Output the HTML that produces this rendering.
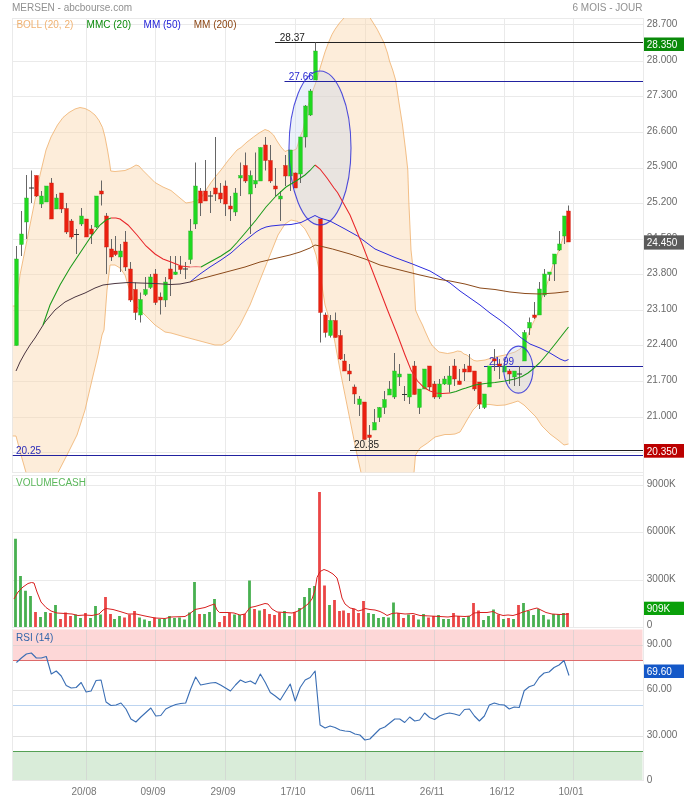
<!DOCTYPE html>
<html><head><meta charset="utf-8"><title>MERSEN</title>
<style>html,body{margin:0;padding:0;background:#fff;}body{width:684px;height:800px;position:relative;overflow:hidden;font-family:"Liberation Sans",sans-serif;}</style></head>
<body>
<svg width="684" height="800" viewBox="0 0 684 800" style="position:absolute;left:0;top:0;will-change:transform" font-family="Liberation Sans, sans-serif" font-size="10px">
<rect width="684" height="800" fill="#fff"/>
<defs><clipPath id="cm"><rect x="12.5" y="18" width="630.5" height="454.5"/></clipPath><clipPath id="cv"><rect x="12.5" y="475" width="630.5" height="152.5"/></clipPath></defs>
<g stroke="#eaeaea" stroke-width="1" shape-rendering="crispEdges">
<line x1="12" y1="24.5" x2="643" y2="24.5"/>
<line x1="12" y1="61.5" x2="643" y2="61.5"/>
<line x1="12" y1="96.5" x2="643" y2="96.5"/>
<line x1="12" y1="132.5" x2="643" y2="132.5"/>
<line x1="12" y1="168.5" x2="643" y2="168.5"/>
<line x1="12" y1="203.5" x2="643" y2="203.5"/>
<line x1="12" y1="239.5" x2="643" y2="239.5"/>
<line x1="12" y1="274.5" x2="643" y2="274.5"/>
<line x1="12" y1="310.5" x2="643" y2="310.5"/>
<line x1="12" y1="345.5" x2="643" y2="345.5"/>
<line x1="12" y1="381.5" x2="643" y2="381.5"/>
<line x1="12" y1="417.5" x2="643" y2="417.5"/>
<line x1="12" y1="452.5" x2="643" y2="452.5"/>
<line x1="86.5" y1="18" x2="86.5" y2="472"/>
<line x1="155.5" y1="18" x2="155.5" y2="472"/>
<line x1="225.5" y1="18" x2="225.5" y2="472"/>
<line x1="295.5" y1="18" x2="295.5" y2="472"/>
<line x1="365.5" y1="18" x2="365.5" y2="472"/>
<line x1="434.5" y1="18" x2="434.5" y2="472"/>
<line x1="504.5" y1="18" x2="504.5" y2="472"/>
<line x1="573.5" y1="18" x2="573.5" y2="472"/>
<path d="M643.5 18.5H12.5V472.5H643.5" fill="none"/>
<line x1="12" y1="485.5" x2="643" y2="485.5"/>
<line x1="12" y1="532.5" x2="643" y2="532.5"/>
<line x1="12" y1="580.5" x2="643" y2="580.5"/>
<line x1="86.5" y1="475" x2="86.5" y2="627"/>
<line x1="155.5" y1="475" x2="155.5" y2="627"/>
<line x1="225.5" y1="475" x2="225.5" y2="627"/>
<line x1="295.5" y1="475" x2="295.5" y2="627"/>
<line x1="365.5" y1="475" x2="365.5" y2="627"/>
<line x1="434.5" y1="475" x2="434.5" y2="627"/>
<line x1="504.5" y1="475" x2="504.5" y2="627"/>
<line x1="573.5" y1="475" x2="573.5" y2="627"/>
<path d="M643.5 475.5H12.5V627.5H643.5" fill="none"/>
</g>
<rect x="12.5" y="629.5" width="630" height="31" fill="#fdd7d7"/>
<rect x="12.5" y="751.5" width="630" height="29" fill="#d9ecd9"/>
<g stroke="#cfcfcf" stroke-opacity="0.6" stroke-width="1" shape-rendering="crispEdges">
<line x1="12" y1="645.5" x2="643" y2="645.5"/>
<line x1="12" y1="690.5" x2="643" y2="690.5"/>
<line x1="12" y1="736.5" x2="643" y2="736.5"/>
<line x1="86.5" y1="629.5" x2="86.5" y2="780.5"/>
<line x1="155.5" y1="629.5" x2="155.5" y2="780.5"/>
<line x1="225.5" y1="629.5" x2="225.5" y2="780.5"/>
<line x1="295.5" y1="629.5" x2="295.5" y2="780.5"/>
<line x1="365.5" y1="629.5" x2="365.5" y2="780.5"/>
<line x1="434.5" y1="629.5" x2="434.5" y2="780.5"/>
<line x1="504.5" y1="629.5" x2="504.5" y2="780.5"/>
<line x1="573.5" y1="629.5" x2="573.5" y2="780.5"/>
</g>
<g stroke="#eaeaea" shape-rendering="crispEdges"><line x1="12.5" y1="629" x2="12.5" y2="781"/><line x1="643.5" y1="18" x2="643.5" y2="781"/><line x1="12" y1="780.5" x2="643" y2="780.5"/></g>
<line x1="12.5" y1="705.5" x2="643" y2="705.5" stroke="#bcd4f0" shape-rendering="crispEdges"/>
<line x1="12.5" y1="660.5" x2="643" y2="660.5" stroke="#dd6a6a" shape-rendering="crispEdges"/>
<line x1="12.5" y1="751.5" x2="643" y2="751.5" stroke="#55a055" shape-rendering="crispEdges"/>
<g clip-path="url(#cm)">
<polygon points="12.5,306 16,306 18,292 20,275 25,250 30,225 35,200 40,175 46,150 51,137 57.5,125 63,117.5 69,112.5 75,109 80,107.5 85,108.5 90,111 95,115 99,120.5 102.5,127.5 105,137 107.5,150 109.5,162 110.75,171 115,171.5 120,171 125,170.5 131,168 136,165 139,166 142.5,170 148,175.5 155,182.5 163,187 171,190.5 180,198 186,203 192,202 198,200 201,198 206,190 211,182.5 216,176 221,170 228.5,160 237,150 241,147.5 247,142 253.5,137 259,133 265,129.5 269,131 273.5,135 277,141 281,147 285,151.5 288.5,150 293,150.5 296.5,149 298.5,142 300,137 303,130 305,120 308,106 310,100 313,90 316,82 321,65 325,52 328.5,42.5 332,34.5 335,29.3 339.5,23 344,18 344,10 370.2,10 370.2,18 377.2,29.3 383.9,42.5 387.5,53 389.5,61 392.7,70 395.6,80 399.2,104 402.5,125 405.6,150 407.8,170 408.75,200 411,250 413.75,275 415.5,310 419,318 422.5,325 425,331 430,342 432.5,346 439,352 447.5,353.5 453,352.5 457.5,351 461,351.5 464,354 467,355 471,358.5 474,360.5 477,361 485,360 495,357 505,355 515,352 520,349 524,345 528,335 532,325 537,315 541,300 545,290 549,278 553,265 557,255 560,247 563,238 566,225 568.5,213 568.5,444 564,445 558,440 550,434 542,426 536,417 530,411 524,405 518,401 512,403 505,405 497,405.5 490,404.5 479,404 473,410 467,420 463,427 460,432 455,434 450,434.5 445,434.5 435,437 427.5,443 420,448 415.5,455 414,472.5 414,480 361,480 361,472.5 356,450 350,420 341,375 334,337.5 329,318 325,305 321,280 316,255 311,240 305,229 298,221.5 291,220 285,224 278,235 270,255 260,280 250,305 240,325 230,340 222,345 215,345 200,341 185,337 171,333 165,332 155,325 145,315 135,305 128,285 125,275 120,268 115,265 110,265 107,290 104,330 102,335 98,355 92,380 85,410 77,435 67,455 58,472.5 58,480 26,480 26,472.5 21,455 16,436 12.5,436" fill="#fbd5a8" fill-opacity="0.42" stroke="none"/>
<g fill="none" stroke="#f0b472" stroke-width="0.85">
<polyline points="12.5,306 16,306 18,292 20,275 25,250 30,225 35,200 40,175 46,150 51,137 57.5,125 63,117.5 69,112.5 75,109 80,107.5 85,108.5 90,111 95,115 99,120.5 102.5,127.5 105,137 107.5,150 109.5,162 110.75,171 115,171.5 120,171 125,170.5 131,168 136,165 139,166 142.5,170 148,175.5 155,182.5 163,187 171,190.5 180,198 186,203 192,202 198,200 201,198 206,190 211,182.5 216,176 221,170 228.5,160 237,150 241,147.5 247,142 253.5,137 259,133 265,129.5 269,131 273.5,135 277,141 281,147 285,151.5 288.5,150 293,150.5 296.5,149 298.5,142 300,137 303,130 305,120 308,106 310,100 313,90 316,82 321,65 325,52 328.5,42.5 332,34.5 335,29.3 339.5,23 344,18"/>
<polyline points="370.2,18 377.2,29.3 383.9,42.5 387.5,53 389.5,61 392.7,70 395.6,80 399.2,104 402.5,125 405.6,150 407.8,170 408.75,200 411,250 413.75,275 415.5,310 419,318 422.5,325 425,331 430,342 432.5,346 439,352 447.5,353.5 453,352.5 457.5,351 461,351.5 464,354 467,355 471,358.5 474,360.5 477,361 485,360 495,357 505,355 515,352 520,349 524,345 528,335 532,325 537,315 541,300 545,290 549,278 553,265 557,255 560,247 563,238 566,225 568.5,213"/>
<polyline points="414,472.5 415.5,455 420,448 427.5,443 435,437 445,434.5 450,434.5 455,434 460,432 463,427 467,420 473,410 479,404 490,404.5 497,405.5 505,405 512,403 518,401 524,405 530,411 536,417 542,426 550,434 558,440 564,445 568.5,444"/>
<polyline points="58,472.5 67,455 77,435 85,410 92,380 98,355 102,335 104,330 107,290 110,265 115,265 120,268 125,275 128,285 135,305 145,315 155,325 165,332 171,333 185,337 200,341 215,345 222,345 230,340 240,325 250,305 260,280 270,255 278,235 285,224 291,220 298,221.5 305,229 311,240 316,255 321,280 325,305 329,318 334,337.5 341,375 350,420 356,450 361,472.5"/>
<polyline points="12.5,436 16,436 21,455 26,472.5"/>
</g>
<ellipse cx="320" cy="148" rx="31" ry="77" fill="#bcd0f0" fill-opacity="0.3" stroke="none"/>
<ellipse cx="518.4" cy="369.6" rx="14.6" ry="23.5" fill="#bcd0f0" fill-opacity="0.3" stroke="none"/>
<line x1="275" y1="42.5" x2="643" y2="42.5" stroke="#222" stroke-width="1"/>
<line x1="284.5" y1="81.5" x2="643" y2="81.5" stroke="#2222a0" stroke-width="1"/>
<line x1="484" y1="366.5" x2="643" y2="366.5" stroke="#2222a0" stroke-width="1"/>
<line x1="350" y1="450.5" x2="643" y2="450.5" stroke="#222" stroke-width="1"/>
<line x1="12.5" y1="455.5" x2="643" y2="455.5" stroke="#2222a0" stroke-width="1"/>
<text x="279.8" y="40.5" fill="#222">28.37</text>
<text x="288.8" y="79.5" fill="#2a2ad0">27.66</text>
<text x="489" y="364.6" fill="#2a2ad0">21.99</text>
<text x="354" y="448" fill="#222">20.35</text>
<text x="16" y="453.7" fill="#2a2ab8">20.25</text>
<line x1="16.5" y1="246.0" x2="16.5" y2="345.5" stroke="#666" stroke-width="1"/>
<rect x="14.65" y="259.0" width="3.7" height="86.5" fill="#20d820" stroke="#2fae2f" stroke-width="0.4"/>
<line x1="21.5" y1="211.0" x2="21.5" y2="256.0" stroke="#666" stroke-width="1"/>
<rect x="19.65" y="234.0" width="3.7" height="10.5" fill="#20d820" stroke="#2fae2f" stroke-width="0.4"/>
<line x1="26.5" y1="175.0" x2="26.5" y2="239.0" stroke="#666" stroke-width="1"/>
<rect x="24.65" y="198.0" width="3.7" height="24" fill="#20d820" stroke="#2fae2f" stroke-width="0.4"/>
<line x1="31.5" y1="170.5" x2="31.5" y2="203.0" stroke="#666" stroke-width="1"/>
<line x1="29.0" y1="188.0" x2="34.0" y2="188.0" stroke="#333" stroke-width="1"/>
<line x1="36.5" y1="175.5" x2="36.5" y2="197.0" stroke="#666" stroke-width="1"/>
<rect x="34.65" y="175.5" width="3.7" height="20.5" fill="#ea2010" stroke="#c81e10" stroke-width="0.4"/>
<line x1="41.5" y1="191.0" x2="41.5" y2="208.0" stroke="#666" stroke-width="1"/>
<rect x="39.65" y="196.0" width="3.7" height="8" fill="#20d820" stroke="#2fae2f" stroke-width="0.4"/>
<line x1="46.5" y1="186.0" x2="46.5" y2="202.0" stroke="#666" stroke-width="1"/>
<rect x="44.65" y="186.0" width="3.7" height="16" fill="#20d820" stroke="#2fae2f" stroke-width="0.4"/>
<line x1="51.5" y1="178.0" x2="51.5" y2="219.0" stroke="#666" stroke-width="1"/>
<rect x="49.65" y="183.0" width="3.7" height="36" fill="#ea2010" stroke="#c81e10" stroke-width="0.4"/>
<line x1="56.5" y1="194.0" x2="56.5" y2="209.0" stroke="#666" stroke-width="1"/>
<rect x="54.65" y="198.0" width="3.7" height="11" fill="#20d820" stroke="#2fae2f" stroke-width="0.4"/>
<line x1="61.5" y1="193.0" x2="61.5" y2="213.0" stroke="#666" stroke-width="1"/>
<rect x="59.65" y="193.0" width="3.7" height="16" fill="#ea2010" stroke="#c81e10" stroke-width="0.4"/>
<line x1="66.5" y1="203.0" x2="66.5" y2="234.0" stroke="#666" stroke-width="1"/>
<rect x="64.65" y="208.5" width="3.7" height="23.5" fill="#ea2010" stroke="#c81e10" stroke-width="0.4"/>
<line x1="71.5" y1="219.0" x2="71.5" y2="239.0" stroke="#666" stroke-width="1"/>
<rect x="69.65" y="221.0" width="3.7" height="16" fill="#ea2010" stroke="#c81e10" stroke-width="0.4"/>
<line x1="76.5" y1="229.0" x2="76.5" y2="254.0" stroke="#666" stroke-width="1"/>
<line x1="74.0" y1="234.5" x2="79.0" y2="234.5" stroke="#333" stroke-width="1"/>
<line x1="81.5" y1="208.0" x2="81.5" y2="226.0" stroke="#666" stroke-width="1"/>
<rect x="79.65" y="216.0" width="3.7" height="8" fill="#20d820" stroke="#2fae2f" stroke-width="0.4"/>
<line x1="86.5" y1="219.0" x2="86.5" y2="237.0" stroke="#666" stroke-width="1"/>
<rect x="84.65" y="219.0" width="3.7" height="18" fill="#ea2010" stroke="#c81e10" stroke-width="0.4"/>
<line x1="91.5" y1="225.0" x2="91.5" y2="244.0" stroke="#666" stroke-width="1"/>
<rect x="89.65" y="229.0" width="3.7" height="5" fill="#ea2010" stroke="#c81e10" stroke-width="0.4"/>
<line x1="96.5" y1="196.0" x2="96.5" y2="228.0" stroke="#666" stroke-width="1"/>
<rect x="94.65" y="196.0" width="3.7" height="31" fill="#20d820" stroke="#2fae2f" stroke-width="0.4"/>
<line x1="101.5" y1="180.5" x2="101.5" y2="205.5" stroke="#666" stroke-width="1"/>
<rect x="99.65" y="191.0" width="3.7" height="3" fill="#ea2010" stroke="#c81e10" stroke-width="0.4"/>
<line x1="106.5" y1="213.0" x2="106.5" y2="274.0" stroke="#666" stroke-width="1"/>
<rect x="104.65" y="216.0" width="3.7" height="31" fill="#ea2010" stroke="#c81e10" stroke-width="0.4"/>
<line x1="111.5" y1="239.0" x2="111.5" y2="261.0" stroke="#666" stroke-width="1"/>
<rect x="109.65" y="249.0" width="3.7" height="8" fill="#ea2010" stroke="#c81e10" stroke-width="0.4"/>
<line x1="115.5" y1="236.0" x2="115.5" y2="256.0" stroke="#666" stroke-width="1"/>
<rect x="113.65" y="251.0" width="3.7" height="3.5" fill="#ea2010" stroke="#c81e10" stroke-width="0.4"/>
<line x1="120.5" y1="244.0" x2="120.5" y2="272.0" stroke="#666" stroke-width="1"/>
<rect x="118.65" y="251.0" width="3.7" height="6" fill="#20d820" stroke="#2fae2f" stroke-width="0.4"/>
<line x1="125.5" y1="231.0" x2="125.5" y2="271.0" stroke="#666" stroke-width="1"/>
<rect x="123.65" y="242.0" width="3.7" height="25" fill="#ea2010" stroke="#c81e10" stroke-width="0.4"/>
<line x1="130.5" y1="262.0" x2="130.5" y2="302.0" stroke="#666" stroke-width="1"/>
<rect x="128.65" y="269.0" width="3.7" height="31" fill="#ea2010" stroke="#c81e10" stroke-width="0.4"/>
<line x1="135.5" y1="282.5" x2="135.5" y2="320.0" stroke="#666" stroke-width="1"/>
<rect x="133.65" y="289.5" width="3.7" height="23" fill="#ea2010" stroke="#c81e10" stroke-width="0.4"/>
<line x1="140.5" y1="292.5" x2="140.5" y2="322.5" stroke="#666" stroke-width="1"/>
<rect x="138.65" y="299.5" width="3.7" height="15.5" fill="#20d820" stroke="#2fae2f" stroke-width="0.4"/>
<line x1="145.5" y1="277.0" x2="145.5" y2="296.0" stroke="#666" stroke-width="1"/>
<rect x="143.65" y="289.5" width="3.7" height="5" fill="#20d820" stroke="#2fae2f" stroke-width="0.4"/>
<line x1="150.5" y1="274.0" x2="150.5" y2="289.0" stroke="#666" stroke-width="1"/>
<rect x="148.65" y="277.0" width="3.7" height="10.5" fill="#20d820" stroke="#2fae2f" stroke-width="0.4"/>
<line x1="155.5" y1="269.0" x2="155.5" y2="305.0" stroke="#666" stroke-width="1"/>
<rect x="153.65" y="274.0" width="3.7" height="28.5" fill="#ea2010" stroke="#c81e10" stroke-width="0.4"/>
<line x1="160.5" y1="292.5" x2="160.5" y2="314.5" stroke="#666" stroke-width="1"/>
<rect x="158.65" y="297.0" width="3.7" height="3" fill="#ea2010" stroke="#c81e10" stroke-width="0.4"/>
<line x1="165.5" y1="277.0" x2="165.5" y2="307.0" stroke="#666" stroke-width="1"/>
<rect x="163.65" y="282.0" width="3.7" height="18" fill="#20d820" stroke="#2fae2f" stroke-width="0.4"/>
<line x1="170.5" y1="256.0" x2="170.5" y2="296.0" stroke="#666" stroke-width="1"/>
<rect x="168.65" y="269.0" width="3.7" height="10" fill="#ea2010" stroke="#c81e10" stroke-width="0.4"/>
<line x1="175.5" y1="256.0" x2="175.5" y2="275.0" stroke="#666" stroke-width="1"/>
<rect x="173.65" y="272.0" width="3.7" height="2.5" fill="#20d820" stroke="#2fae2f" stroke-width="0.4"/>
<line x1="180.5" y1="256.0" x2="180.5" y2="274.0" stroke="#666" stroke-width="1"/>
<rect x="178.65" y="266.0" width="3.7" height="3.5" fill="#ea2010" stroke="#c81e10" stroke-width="0.4"/>
<line x1="185.5" y1="262.0" x2="185.5" y2="279.0" stroke="#666" stroke-width="1"/>
<line x1="183.0" y1="269.0" x2="188.0" y2="269.0" stroke="#333" stroke-width="1"/>
<line x1="190.5" y1="219.0" x2="190.5" y2="264.0" stroke="#666" stroke-width="1"/>
<rect x="188.65" y="231.0" width="3.7" height="28.5" fill="#20d820" stroke="#2fae2f" stroke-width="0.4"/>
<line x1="195.5" y1="162.5" x2="195.5" y2="229.0" stroke="#666" stroke-width="1"/>
<rect x="193.65" y="186.0" width="3.7" height="38" fill="#20d820" stroke="#2fae2f" stroke-width="0.4"/>
<line x1="200.5" y1="188.0" x2="200.5" y2="216.0" stroke="#666" stroke-width="1"/>
<rect x="198.65" y="191.0" width="3.7" height="12" fill="#ea2010" stroke="#c81e10" stroke-width="0.4"/>
<line x1="205.5" y1="160.0" x2="205.5" y2="201.0" stroke="#666" stroke-width="1"/>
<rect x="203.65" y="191.0" width="3.7" height="10" fill="#ea2010" stroke="#c81e10" stroke-width="0.4"/>
<line x1="210.5" y1="191.0" x2="210.5" y2="213.0" stroke="#666" stroke-width="1"/>
<line x1="208.0" y1="196.0" x2="213.0" y2="196.0" stroke="#333" stroke-width="1"/>
<line x1="215.5" y1="137.0" x2="215.5" y2="201.0" stroke="#666" stroke-width="1"/>
<rect x="213.65" y="188.0" width="3.7" height="6" fill="#ea2010" stroke="#c81e10" stroke-width="0.4"/>
<line x1="220.5" y1="183.0" x2="220.5" y2="203.0" stroke="#666" stroke-width="1"/>
<rect x="218.65" y="193.0" width="3.7" height="6" fill="#ea2010" stroke="#c81e10" stroke-width="0.4"/>
<line x1="225.5" y1="180.5" x2="225.5" y2="216.0" stroke="#666" stroke-width="1"/>
<rect x="223.65" y="186.0" width="3.7" height="18" fill="#ea2010" stroke="#c81e10" stroke-width="0.4"/>
<line x1="230.5" y1="196.0" x2="230.5" y2="221.0" stroke="#666" stroke-width="1"/>
<rect x="228.65" y="206.0" width="3.7" height="3" fill="#ea2010" stroke="#c81e10" stroke-width="0.4"/>
<line x1="235.5" y1="188.0" x2="235.5" y2="216.0" stroke="#666" stroke-width="1"/>
<rect x="233.65" y="193.0" width="3.7" height="19" fill="#20d820" stroke="#2fae2f" stroke-width="0.4"/>
<line x1="240.5" y1="162.5" x2="240.5" y2="196.0" stroke="#666" stroke-width="1"/>
<rect x="238.65" y="175.5" width="3.7" height="2.5" fill="#20d820" stroke="#2fae2f" stroke-width="0.4"/>
<line x1="245.5" y1="152.5" x2="245.5" y2="183.0" stroke="#666" stroke-width="1"/>
<rect x="243.65" y="165.5" width="3.7" height="15.5" fill="#ea2010" stroke="#c81e10" stroke-width="0.4"/>
<line x1="250.5" y1="170.5" x2="250.5" y2="234.0" stroke="#666" stroke-width="1"/>
<rect x="248.65" y="175.5" width="3.7" height="18.5" fill="#20d820" stroke="#2fae2f" stroke-width="0.4"/>
<line x1="255.5" y1="152.5" x2="255.5" y2="188.0" stroke="#666" stroke-width="1"/>
<rect x="253.65" y="180.5" width="3.7" height="3.5" fill="#20d820" stroke="#2fae2f" stroke-width="0.4"/>
<line x1="260.5" y1="147.5" x2="260.5" y2="181.0" stroke="#666" stroke-width="1"/>
<rect x="258.65" y="147.5" width="3.7" height="33.5" fill="#20d820" stroke="#2fae2f" stroke-width="0.4"/>
<line x1="265.5" y1="137.0" x2="265.5" y2="170.5" stroke="#666" stroke-width="1"/>
<rect x="263.65" y="145.0" width="3.7" height="15.5" fill="#ea2010" stroke="#c81e10" stroke-width="0.4"/>
<line x1="270.5" y1="145.0" x2="270.5" y2="183.0" stroke="#666" stroke-width="1"/>
<rect x="268.65" y="160.5" width="3.7" height="20.5" fill="#ea2010" stroke="#c81e10" stroke-width="0.4"/>
<line x1="275.5" y1="168.0" x2="275.5" y2="196.0" stroke="#666" stroke-width="1"/>
<rect x="273.65" y="186.0" width="3.7" height="3" fill="#ea2010" stroke="#c81e10" stroke-width="0.4"/>
<line x1="280.5" y1="191.0" x2="280.5" y2="221.0" stroke="#666" stroke-width="1"/>
<rect x="278.65" y="196.0" width="3.7" height="3" fill="#20d820" stroke="#2fae2f" stroke-width="0.4"/>
<line x1="285.5" y1="155.0" x2="285.5" y2="186.0" stroke="#666" stroke-width="1"/>
<rect x="283.65" y="165.5" width="3.7" height="10.5" fill="#ea2010" stroke="#c81e10" stroke-width="0.4"/>
<line x1="290.5" y1="150.0" x2="290.5" y2="191.0" stroke="#666" stroke-width="1"/>
<rect x="288.65" y="150.0" width="3.7" height="26" fill="#20d820" stroke="#2fae2f" stroke-width="0.4"/>
<line x1="295.5" y1="172.5" x2="295.5" y2="188.0" stroke="#666" stroke-width="1"/>
<rect x="293.65" y="173.0" width="3.7" height="15" fill="#ea2010" stroke="#c81e10" stroke-width="0.4"/>
<line x1="300.5" y1="137.0" x2="300.5" y2="183.0" stroke="#666" stroke-width="1"/>
<rect x="298.65" y="137.0" width="3.7" height="37" fill="#20d820" stroke="#2fae2f" stroke-width="0.4"/>
<line x1="305.5" y1="105.0" x2="305.5" y2="147.5" stroke="#666" stroke-width="1"/>
<rect x="303.65" y="106.0" width="3.7" height="31" fill="#20d820" stroke="#2fae2f" stroke-width="0.4"/>
<line x1="310.5" y1="89.0" x2="310.5" y2="116.0" stroke="#666" stroke-width="1"/>
<rect x="308.65" y="91.0" width="3.7" height="24" fill="#20d820" stroke="#2fae2f" stroke-width="0.4"/>
<line x1="315.5" y1="42.5" x2="315.5" y2="80.0" stroke="#666" stroke-width="1"/>
<rect x="313.65" y="51.0" width="3.7" height="29" fill="#20d820" stroke="#2fae2f" stroke-width="0.4"/>
<line x1="320.5" y1="219.0" x2="320.5" y2="342.5" stroke="#666" stroke-width="1"/>
<rect x="318.65" y="219.0" width="3.7" height="93.5" fill="#ea2010" stroke="#c81e10" stroke-width="0.4"/>
<line x1="325.5" y1="312.5" x2="325.5" y2="337.5" stroke="#666" stroke-width="1"/>
<rect x="323.65" y="315.0" width="3.7" height="17.5" fill="#ea2010" stroke="#c81e10" stroke-width="0.4"/>
<line x1="330.5" y1="315.0" x2="330.5" y2="337.5" stroke="#666" stroke-width="1"/>
<rect x="328.65" y="320.5" width="3.7" height="15" fill="#20d820" stroke="#2fae2f" stroke-width="0.4"/>
<line x1="335.5" y1="312.5" x2="335.5" y2="337.5" stroke="#666" stroke-width="1"/>
<rect x="333.65" y="320.5" width="3.7" height="17" fill="#ea2010" stroke="#c81e10" stroke-width="0.4"/>
<line x1="340.5" y1="330.0" x2="340.5" y2="360.0" stroke="#666" stroke-width="1"/>
<rect x="338.65" y="335.5" width="3.7" height="23.5" fill="#ea2010" stroke="#c81e10" stroke-width="0.4"/>
<line x1="344.5" y1="354.0" x2="344.5" y2="371.0" stroke="#666" stroke-width="1"/>
<rect x="342.65" y="361.0" width="3.7" height="10" fill="#ea2010" stroke="#c81e10" stroke-width="0.4"/>
<line x1="349.5" y1="364.0" x2="349.5" y2="381.0" stroke="#666" stroke-width="1"/>
<rect x="347.65" y="371.0" width="3.7" height="3" fill="#ea2010" stroke="#c81e10" stroke-width="0.4"/>
<line x1="354.5" y1="384.5" x2="354.5" y2="404.0" stroke="#666" stroke-width="1"/>
<rect x="352.65" y="387.0" width="3.7" height="7" fill="#ea2010" stroke="#c81e10" stroke-width="0.4"/>
<line x1="359.5" y1="396.0" x2="359.5" y2="416.0" stroke="#666" stroke-width="1"/>
<rect x="357.65" y="399.0" width="3.7" height="5.5" fill="#20d820" stroke="#2fae2f" stroke-width="0.4"/>
<line x1="364.5" y1="402.0" x2="364.5" y2="439.5" stroke="#666" stroke-width="1"/>
<rect x="362.65" y="402.0" width="3.7" height="37.5" fill="#ea2010" stroke="#c81e10" stroke-width="0.4"/>
<line x1="369.5" y1="425.0" x2="369.5" y2="450.0" stroke="#666" stroke-width="1"/>
<rect x="367.65" y="435.0" width="3.7" height="2.5" fill="#ea2010" stroke="#c81e10" stroke-width="0.4"/>
<line x1="374.5" y1="409.0" x2="374.5" y2="430.0" stroke="#666" stroke-width="1"/>
<rect x="372.65" y="422.5" width="3.7" height="7.5" fill="#20d820" stroke="#2fae2f" stroke-width="0.4"/>
<line x1="379.5" y1="407.0" x2="379.5" y2="422.0" stroke="#666" stroke-width="1"/>
<rect x="377.65" y="407.5" width="3.7" height="10" fill="#20d820" stroke="#2fae2f" stroke-width="0.4"/>
<line x1="384.5" y1="391.0" x2="384.5" y2="414.0" stroke="#666" stroke-width="1"/>
<rect x="382.65" y="399.5" width="3.7" height="8" fill="#20d820" stroke="#2fae2f" stroke-width="0.4"/>
<line x1="389.5" y1="381.0" x2="389.5" y2="395.0" stroke="#666" stroke-width="1"/>
<rect x="387.65" y="389.0" width="3.7" height="6" fill="#20d820" stroke="#2fae2f" stroke-width="0.4"/>
<line x1="394.5" y1="353.0" x2="394.5" y2="399.0" stroke="#666" stroke-width="1"/>
<rect x="392.65" y="371.0" width="3.7" height="26" fill="#20d820" stroke="#2fae2f" stroke-width="0.4"/>
<line x1="399.5" y1="364.0" x2="399.5" y2="386.0" stroke="#666" stroke-width="1"/>
<rect x="397.65" y="374.0" width="3.7" height="3" fill="#20d820" stroke="#2fae2f" stroke-width="0.4"/>
<line x1="404.5" y1="386.0" x2="404.5" y2="401.0" stroke="#666" stroke-width="1"/>
<line x1="402.0" y1="394.5" x2="407.0" y2="394.5" stroke="#333" stroke-width="1"/>
<line x1="409.5" y1="374.0" x2="409.5" y2="404.0" stroke="#666" stroke-width="1"/>
<rect x="407.65" y="374.0" width="3.7" height="23" fill="#20d820" stroke="#2fae2f" stroke-width="0.4"/>
<line x1="414.5" y1="361.0" x2="414.5" y2="394.5" stroke="#666" stroke-width="1"/>
<rect x="412.65" y="366.0" width="3.7" height="28.5" fill="#ea2010" stroke="#c81e10" stroke-width="0.4"/>
<line x1="419.5" y1="389.0" x2="419.5" y2="414.0" stroke="#666" stroke-width="1"/>
<rect x="417.65" y="389.0" width="3.7" height="18.5" fill="#20d820" stroke="#2fae2f" stroke-width="0.4"/>
<line x1="424.5" y1="369.0" x2="424.5" y2="389.0" stroke="#666" stroke-width="1"/>
<rect x="422.65" y="369.0" width="3.7" height="20" fill="#20d820" stroke="#2fae2f" stroke-width="0.4"/>
<line x1="429.5" y1="366.0" x2="429.5" y2="391.0" stroke="#666" stroke-width="1"/>
<rect x="427.65" y="366.0" width="3.7" height="21" fill="#ea2010" stroke="#c81e10" stroke-width="0.4"/>
<line x1="434.5" y1="381.0" x2="434.5" y2="399.0" stroke="#666" stroke-width="1"/>
<rect x="432.65" y="384.0" width="3.7" height="13" fill="#ea2010" stroke="#c81e10" stroke-width="0.4"/>
<line x1="439.5" y1="379.0" x2="439.5" y2="399.0" stroke="#666" stroke-width="1"/>
<rect x="437.65" y="384.0" width="3.7" height="13" fill="#20d820" stroke="#2fae2f" stroke-width="0.4"/>
<line x1="444.5" y1="376.0" x2="444.5" y2="385.0" stroke="#666" stroke-width="1"/>
<rect x="442.65" y="379.0" width="3.7" height="5" fill="#20d820" stroke="#2fae2f" stroke-width="0.4"/>
<line x1="449.5" y1="366.0" x2="449.5" y2="392.5" stroke="#666" stroke-width="1"/>
<rect x="447.65" y="376.0" width="3.7" height="8.5" fill="#20d820" stroke="#2fae2f" stroke-width="0.4"/>
<line x1="454.5" y1="359.0" x2="454.5" y2="386.0" stroke="#666" stroke-width="1"/>
<rect x="452.65" y="366.0" width="3.7" height="13" fill="#ea2010" stroke="#c81e10" stroke-width="0.4"/>
<line x1="459.5" y1="369.0" x2="459.5" y2="384.5" stroke="#666" stroke-width="1"/>
<rect x="457.65" y="381.0" width="3.7" height="3.5" fill="#ea2010" stroke="#c81e10" stroke-width="0.4"/>
<line x1="464.5" y1="364.0" x2="464.5" y2="381.0" stroke="#666" stroke-width="1"/>
<rect x="462.65" y="369.0" width="3.7" height="3" fill="#ea2010" stroke="#c81e10" stroke-width="0.4"/>
<line x1="469.5" y1="354.0" x2="469.5" y2="372.0" stroke="#666" stroke-width="1"/>
<rect x="467.65" y="366.0" width="3.7" height="6" fill="#ea2010" stroke="#c81e10" stroke-width="0.4"/>
<line x1="474.5" y1="371.0" x2="474.5" y2="391.0" stroke="#666" stroke-width="1"/>
<rect x="472.65" y="371.0" width="3.7" height="18" fill="#ea2010" stroke="#c81e10" stroke-width="0.4"/>
<line x1="479.5" y1="382.0" x2="479.5" y2="409.0" stroke="#666" stroke-width="1"/>
<rect x="477.65" y="382.0" width="3.7" height="22" fill="#ea2010" stroke="#c81e10" stroke-width="0.4"/>
<line x1="484.5" y1="394.0" x2="484.5" y2="409.0" stroke="#666" stroke-width="1"/>
<rect x="482.65" y="394.0" width="3.7" height="13.5" fill="#20d820" stroke="#2fae2f" stroke-width="0.4"/>
<line x1="489.5" y1="366.0" x2="489.5" y2="387.0" stroke="#666" stroke-width="1"/>
<rect x="487.65" y="366.0" width="3.7" height="21" fill="#20d820" stroke="#2fae2f" stroke-width="0.4"/>
<line x1="494.5" y1="349.0" x2="494.5" y2="371.0" stroke="#666" stroke-width="1"/>
<rect x="492.65" y="359.0" width="3.7" height="2" fill="#ea2010" stroke="#c81e10" stroke-width="0.4"/>
<line x1="499.5" y1="359.0" x2="499.5" y2="379.0" stroke="#666" stroke-width="1"/>
<rect x="497.65" y="364.0" width="3.7" height="2" fill="#ea2010" stroke="#c81e10" stroke-width="0.4"/>
<line x1="504.5" y1="359.0" x2="504.5" y2="372.0" stroke="#666" stroke-width="1"/>
<rect x="502.65" y="366.0" width="3.7" height="6" fill="#20d820" stroke="#2fae2f" stroke-width="0.4"/>
<line x1="509.5" y1="369.0" x2="509.5" y2="384.0" stroke="#666" stroke-width="1"/>
<rect x="507.65" y="371.0" width="3.7" height="3" fill="#ea2010" stroke="#c81e10" stroke-width="0.4"/>
<line x1="514.5" y1="371.0" x2="514.5" y2="386.0" stroke="#666" stroke-width="1"/>
<rect x="512.65" y="371.0" width="3.7" height="6" fill="#20d820" stroke="#2fae2f" stroke-width="0.4"/>
<line x1="519.5" y1="366.0" x2="519.5" y2="386.0" stroke="#666" stroke-width="1"/>
<line x1="517.0" y1="374.0" x2="522.0" y2="374.0" stroke="#333" stroke-width="1"/>
<line x1="524.5" y1="330.0" x2="524.5" y2="361.0" stroke="#666" stroke-width="1"/>
<rect x="522.65" y="332.5" width="3.7" height="28.5" fill="#20d820" stroke="#2fae2f" stroke-width="0.4"/>
<line x1="529.5" y1="317.5" x2="529.5" y2="335.0" stroke="#666" stroke-width="1"/>
<rect x="527.65" y="322.5" width="3.7" height="5.5" fill="#20d820" stroke="#2fae2f" stroke-width="0.4"/>
<line x1="534.5" y1="302.0" x2="534.5" y2="319.0" stroke="#666" stroke-width="1"/>
<rect x="532.65" y="315.0" width="3.7" height="2.5" fill="#ea2010" stroke="#c81e10" stroke-width="0.4"/>
<line x1="539.5" y1="282.0" x2="539.5" y2="315.0" stroke="#666" stroke-width="1"/>
<rect x="537.65" y="289.0" width="3.7" height="26" fill="#20d820" stroke="#2fae2f" stroke-width="0.4"/>
<line x1="544.5" y1="269.0" x2="544.5" y2="297.0" stroke="#666" stroke-width="1"/>
<rect x="542.65" y="274.0" width="3.7" height="21" fill="#20d820" stroke="#2fae2f" stroke-width="0.4"/>
<line x1="549.5" y1="272.0" x2="549.5" y2="281.0" stroke="#666" stroke-width="1"/>
<rect x="547.65" y="272.0" width="3.7" height="2.5" fill="#20d820" stroke="#2fae2f" stroke-width="0.4"/>
<line x1="554.5" y1="254.0" x2="554.5" y2="281.0" stroke="#666" stroke-width="1"/>
<rect x="552.65" y="254.0" width="3.7" height="10" fill="#20d820" stroke="#2fae2f" stroke-width="0.4"/>
<line x1="559.5" y1="231.0" x2="559.5" y2="251.0" stroke="#666" stroke-width="1"/>
<rect x="557.65" y="244.0" width="3.7" height="6" fill="#20d820" stroke="#2fae2f" stroke-width="0.4"/>
<line x1="564.5" y1="216.0" x2="564.5" y2="244.0" stroke="#666" stroke-width="1"/>
<rect x="562.65" y="216.0" width="3.7" height="20" fill="#20d820" stroke="#2fae2f" stroke-width="0.4"/>
<line x1="568.5" y1="205.5" x2="568.5" y2="242.0" stroke="#666" stroke-width="1"/>
<rect x="566.65" y="211.0" width="3.7" height="31" fill="#ea2010" stroke="#c81e10" stroke-width="0.4"/>
<ellipse cx="320" cy="148" rx="31" ry="77" fill="none" stroke="#3030d8" stroke-opacity="0.85" stroke-width="1.1"/>
<ellipse cx="518.4" cy="369.6" rx="14.6" ry="23.5" fill="none" stroke="#3030d8" stroke-opacity="0.85" stroke-width="1.1"/>
<polyline points="190,282 200,274 210,267 221,260 231,253 241,244 251,236 256,232 261,229 266,227 271,226 281,225 291,224.5 301,222.5 308,219 315,215.5 320,218 330,221 345,229 357.5,236 375,249 395,257.5 412.5,264 430,271 445,280 450,283 460,291 470,298 480,305 490,313 500,320 510,328 520,337 530,344 540,348 550,353 560,359 565,361 568.5,359.5" fill="none" stroke="#2c2cdc" stroke-width="1"/>
<polyline points="190,282 200,279 215,275 230,271 245,267 260,262 275,258.5 290,255 300,252 310,248 315,245 320,246 332.5,249 350,254 365,259 380,265 400,270 420,275 440,279.5 450,281 465,284 480,288 495,289.5 510,292 525,293.5 540,294 555,293 568.5,291.5" fill="none" stroke="#8b4a1a" stroke-width="1"/>
<polyline points="16,371 20,362 25,353 30,345 35,338 40,330 45,322 55,310 65,302 75,297 85,293 95,288 103,285 115,283.5 128,282.5 140,283 155,283.5 171,284.5 180,284 190,282" fill="none" stroke="#4a3540" stroke-width="1"/>
<polyline points="43,325 50,305 60,285 70,268 80,253 90,238 100,225 106,220 111,218" fill="none" stroke="#1a9a1a" stroke-width="1.05"/>
<polyline points="111,218 116,218 120,219 128,225 137,235 146,246 155,254 163,259 171,262 176,264 181,266 190,267" fill="none" stroke="#e8262a" stroke-width="1.05"/>
<polyline points="190,267 196,266.5 201,267" fill="none" stroke="#f08080" stroke-width="1.05"/>
<polyline points="201,267 210,262 221,256 230,250 237,242.5 246,232 256,220 266,207 276,196 286,187 296,181 305,175 310,170.5 315,165" fill="none" stroke="#1a9a1a" stroke-width="1.05"/>
<polyline points="315,165 320,169 327,178 334,188 337.5,192.5 350,215 362.5,245 375,277.5 387.5,310 397.5,335 405,355 411,370 417.5,381 424,387.5 430,391 436,393 442.5,393.5 450,393" fill="none" stroke="#e8262a" stroke-width="1.05"/>
<polyline points="450,393 456,391.5 462.5,389 466,388 475,385 485,383.5 495,382.5 505,381 515,379 522,376.5 528,373 533,369 540,362.5 548,353 556,343 563,334 568.5,327" fill="none" stroke="#1a9a1a" stroke-width="1.05"/>
</g>
<g clip-path="url(#cv)">
<rect x="14.10" y="538.75" width="2.8" height="88.25" fill="#48b050"/>
<rect x="19.10" y="576.0" width="2.8" height="51" fill="#48b050"/>
<rect x="24.10" y="590.75" width="2.8" height="36.25" fill="#48b050"/>
<rect x="29.10" y="596.0" width="2.8" height="31" fill="#48b050"/>
<rect x="34.10" y="612.0" width="2.8" height="15" fill="#ea4646"/>
<rect x="39.10" y="617.0" width="2.8" height="10" fill="#48b050"/>
<rect x="44.10" y="612.0" width="2.8" height="15" fill="#48b050"/>
<rect x="49.10" y="613.0" width="2.8" height="14" fill="#ea4646"/>
<rect x="54.10" y="605.0" width="2.8" height="22" fill="#48b050"/>
<rect x="59.10" y="619.0" width="2.8" height="8" fill="#ea4646"/>
<rect x="64.10" y="612.5" width="2.8" height="14.5" fill="#ea4646"/>
<rect x="69.10" y="616.0" width="2.8" height="11" fill="#ea4646"/>
<rect x="74.10" y="614.5" width="2.8" height="12.5" fill="#48b050"/>
<rect x="79.10" y="618.0" width="2.8" height="9" fill="#48b050"/>
<rect x="84.10" y="613.0" width="2.8" height="14" fill="#ea4646"/>
<rect x="89.10" y="618.0" width="2.8" height="9" fill="#48b050"/>
<rect x="94.10" y="606.0" width="2.8" height="21" fill="#48b050"/>
<rect x="99.10" y="614.5" width="2.8" height="12.5" fill="#48b050"/>
<rect x="104.10" y="597.0" width="2.8" height="30" fill="#ea4646"/>
<rect x="109.10" y="614.0" width="2.8" height="13" fill="#ea4646"/>
<rect x="113.10" y="619.0" width="2.8" height="8" fill="#48b050"/>
<rect x="118.10" y="616.0" width="2.8" height="11" fill="#48b050"/>
<rect x="123.10" y="617.5" width="2.8" height="9.5" fill="#ea4646"/>
<rect x="128.10" y="614.5" width="2.8" height="12.5" fill="#ea4646"/>
<rect x="133.10" y="611.0" width="2.8" height="16" fill="#ea4646"/>
<rect x="138.10" y="617.5" width="2.8" height="9.5" fill="#48b050"/>
<rect x="143.10" y="619.5" width="2.8" height="7.5" fill="#48b050"/>
<rect x="148.10" y="621.0" width="2.8" height="6" fill="#48b050"/>
<rect x="153.10" y="617.5" width="2.8" height="9.5" fill="#ea4646"/>
<rect x="158.10" y="619.0" width="2.8" height="8" fill="#48b050"/>
<rect x="163.10" y="619.0" width="2.8" height="8" fill="#48b050"/>
<rect x="168.10" y="616.0" width="2.8" height="11" fill="#48b050"/>
<rect x="173.10" y="618.0" width="2.8" height="9" fill="#48b050"/>
<rect x="178.10" y="617.5" width="2.8" height="9.5" fill="#48b050"/>
<rect x="183.10" y="619.5" width="2.8" height="7.5" fill="#48b050"/>
<rect x="188.10" y="612.5" width="2.8" height="14.5" fill="#48b050"/>
<rect x="193.10" y="582.0" width="2.8" height="45" fill="#48b050"/>
<rect x="198.10" y="614.0" width="2.8" height="13" fill="#ea4646"/>
<rect x="203.10" y="614.0" width="2.8" height="13" fill="#48b050"/>
<rect x="208.10" y="612.0" width="2.8" height="15" fill="#48b050"/>
<rect x="213.10" y="599.0" width="2.8" height="28" fill="#48b050"/>
<rect x="218.10" y="622.0" width="2.8" height="5" fill="#ea4646"/>
<rect x="223.10" y="616.0" width="2.8" height="11" fill="#ea4646"/>
<rect x="228.10" y="613.0" width="2.8" height="14" fill="#ea4646"/>
<rect x="233.10" y="614.5" width="2.8" height="12.5" fill="#48b050"/>
<rect x="238.10" y="615.0" width="2.8" height="12" fill="#48b050"/>
<rect x="243.10" y="614.0" width="2.8" height="13" fill="#ea4646"/>
<rect x="248.10" y="580.5" width="2.8" height="46.5" fill="#48b050"/>
<rect x="253.10" y="609.0" width="2.8" height="18" fill="#ea4646"/>
<rect x="258.10" y="610.5" width="2.8" height="16.5" fill="#48b050"/>
<rect x="263.10" y="609.0" width="2.8" height="18" fill="#ea4646"/>
<rect x="268.10" y="614.0" width="2.8" height="13" fill="#ea4646"/>
<rect x="273.10" y="615.0" width="2.8" height="12" fill="#ea4646"/>
<rect x="278.10" y="612.5" width="2.8" height="14.5" fill="#ea4646"/>
<rect x="283.10" y="611.0" width="2.8" height="16" fill="#48b050"/>
<rect x="288.10" y="616.0" width="2.8" height="11" fill="#48b050"/>
<rect x="293.10" y="612.0" width="2.8" height="15" fill="#ea4646"/>
<rect x="298.10" y="608.0" width="2.8" height="19" fill="#48b050"/>
<rect x="303.10" y="597.0" width="2.8" height="30" fill="#48b050"/>
<rect x="308.10" y="588.0" width="2.8" height="39" fill="#48b050"/>
<rect x="313.10" y="586.0" width="2.8" height="41" fill="#48b050"/>
<rect x="318.10" y="492.0" width="2.8" height="135" fill="#ea4646"/>
<rect x="323.10" y="585.5" width="2.8" height="41.5" fill="#ea4646"/>
<rect x="328.10" y="605.0" width="2.8" height="22" fill="#48b050"/>
<rect x="333.10" y="600.0" width="2.8" height="27" fill="#ea4646"/>
<rect x="338.10" y="611.0" width="2.8" height="16" fill="#ea4646"/>
<rect x="342.10" y="610.5" width="2.8" height="16.5" fill="#ea4646"/>
<rect x="347.10" y="613.0" width="2.8" height="14" fill="#ea4646"/>
<rect x="352.10" y="609.0" width="2.8" height="18" fill="#ea4646"/>
<rect x="357.10" y="613.0" width="2.8" height="14" fill="#ea4646"/>
<rect x="362.10" y="601.0" width="2.8" height="26" fill="#ea4646"/>
<rect x="367.10" y="613.0" width="2.8" height="14" fill="#48b050"/>
<rect x="372.10" y="614.0" width="2.8" height="13" fill="#48b050"/>
<rect x="377.10" y="618.0" width="2.8" height="9" fill="#48b050"/>
<rect x="382.10" y="617.0" width="2.8" height="10" fill="#48b050"/>
<rect x="387.10" y="617.5" width="2.8" height="9.5" fill="#48b050"/>
<rect x="392.10" y="602.5" width="2.8" height="24.5" fill="#48b050"/>
<rect x="397.10" y="613.0" width="2.8" height="14" fill="#ea4646"/>
<rect x="402.10" y="618.0" width="2.8" height="9" fill="#ea4646"/>
<rect x="407.10" y="614.5" width="2.8" height="12.5" fill="#48b050"/>
<rect x="412.10" y="615.0" width="2.8" height="12" fill="#ea4646"/>
<rect x="417.10" y="619.5" width="2.8" height="7.5" fill="#48b050"/>
<rect x="422.10" y="614.0" width="2.8" height="13" fill="#48b050"/>
<rect x="427.10" y="617.5" width="2.8" height="9.5" fill="#ea4646"/>
<rect x="432.10" y="616.0" width="2.8" height="11" fill="#ea4646"/>
<rect x="437.10" y="615.0" width="2.8" height="12" fill="#48b050"/>
<rect x="442.10" y="619.0" width="2.8" height="8" fill="#48b050"/>
<rect x="447.10" y="619.0" width="2.8" height="8" fill="#48b050"/>
<rect x="452.10" y="613.0" width="2.8" height="14" fill="#ea4646"/>
<rect x="457.10" y="616.0" width="2.8" height="11" fill="#ea4646"/>
<rect x="462.10" y="618.0" width="2.8" height="9" fill="#48b050"/>
<rect x="467.10" y="616.0" width="2.8" height="11" fill="#48b050"/>
<rect x="472.10" y="603.0" width="2.8" height="24" fill="#ea4646"/>
<rect x="477.10" y="610.5" width="2.8" height="16.5" fill="#ea4646"/>
<rect x="482.10" y="620.0" width="2.8" height="7" fill="#48b050"/>
<rect x="487.10" y="616.0" width="2.8" height="11" fill="#48b050"/>
<rect x="492.10" y="609.5" width="2.8" height="17.5" fill="#48b050"/>
<rect x="497.10" y="614.5" width="2.8" height="12.5" fill="#ea4646"/>
<rect x="502.10" y="619.0" width="2.8" height="8" fill="#48b050"/>
<rect x="507.10" y="618.0" width="2.8" height="9" fill="#ea4646"/>
<rect x="512.10" y="619.0" width="2.8" height="8" fill="#48b050"/>
<rect x="517.10" y="605.0" width="2.8" height="22" fill="#ea4646"/>
<rect x="522.10" y="603.0" width="2.8" height="24" fill="#48b050"/>
<rect x="527.10" y="611.0" width="2.8" height="16" fill="#48b050"/>
<rect x="532.10" y="615.0" width="2.8" height="12" fill="#48b050"/>
<rect x="537.10" y="609.0" width="2.8" height="18" fill="#48b050"/>
<rect x="542.10" y="615.0" width="2.8" height="12" fill="#48b050"/>
<rect x="547.10" y="619.5" width="2.8" height="7.5" fill="#48b050"/>
<rect x="552.10" y="614.0" width="2.8" height="13" fill="#48b050"/>
<rect x="557.10" y="614.0" width="2.8" height="13" fill="#48b050"/>
<rect x="562.10" y="613.0" width="2.8" height="14" fill="#48b050"/>
<rect x="566.10" y="613.0" width="2.8" height="14" fill="#ea4646"/>
<polyline points="14,599 18,592 23,587 28,583.5 31.5,582.5 34,583 37,592 41,602 46,607.5 51,611 57,613 65,613.5 72,614 78,615.5 85,615 92,615.5 99,614 103,610 106,608.5 113,609.5 120,611.5 128,614 136,614 145,616 155,618 165,618.5 171,617 185,616.5 190,613.5 195,609.5 200,608.5 205,607.5 210,605.5 214.5,604 217,610 219.5,612.5 228,612.5 234,613 240,615 245,614 250,607.5 255,606.5 260,605 265,603.5 268,604 272,609 277,612 285,612.5 292,613 297,611.5 302,608.5 308,604 312,599 315,590 317,577.5 320,571.5 324,569.5 328,571 333,574 337,578 339,585 342,598 345,604 350,608 355,609 358,611 362,610 365,608.5 370,609.5 375,610 380,611.5 384,613.5 387,615.5 392,613.5 397,613 405,614 413,613.5 420,615.5 430,616 440,616.5 448,617 455,616 465,616.5 470,616 474,613 480,612.5 487,612.5 493,611.5 498,614 503,615.5 508,615 513,615.5 518,614 523,612 528,610.5 533,609 537,608 541,610 546,612.5 552,614 560,614.5 568.5,614" fill="none" stroke="#d82020" stroke-width="1"/>
</g>
<polyline points="16.43,662.5 21.408,658 26.386,654 31.364,653 36.342,658 41.32,658 46.298,656.5 51.276,674 56.254,671 61.232,676 66.21,685.5 71.188,688 76.166,687.5 81.144,682.5 86.122,692 91.1,691 96.078,680.5 101.056,680 106.034,702 111.012,705.5 115.99,705 120.968,703 125.946,709 130.924,719 135.902,722 140.88,717 145.858,712.5 150.836,708 155.814,716 160.792,715.5 165.77,709 170.748,706.5 175.726,704.5 180.704,703.5 185.682,703 190.66,689 195.638,677 200.616,685 205.594,684 210.572,683 215.55,682.5 220.528,685 225.506,688 230.484,691 235.462,685 240.44,680 245.418,682.5 250.396,681 255.374,684 260.352,674 265.33,682.5 270.308,692.5 275.286,696 280.264,700 285.242,692 290.22,684 295.198,701 300.176,687.5 305.154,680 310.132,677.5 315.11,671 320.088,725 325.066,728 330.044,726 335.022,727.5 340,730 344.978,731 349.956,731.5 354.934,734 359.912,735 364.89,740 369.868,739 374.846,734 379.824,729 384.802,727 389.78,723 394.758,719 399.736,719 404.714,722.5 409.692,717 414.67,721 419.648,720 424.626,713 429.604,717.5 434.582,719.5 439.56,716 444.538,714 449.516,713 454.494,714 459.472,715.5 464.45,709.5 469.428,709 474.406,716 479.384,721 484.362,716 489.34,705 494.318,703 499.296,704.5 504.274,705 509.252,709 514.23,707 519.208,707.5 524.186,690.75 529.164,686.75 534.142,685 539.12,677.5 544.098,673 549.076,672 554.054,667.5 559.032,665 564.01,660.5 568.988,675.5" fill="none" stroke="#3a6eb4" stroke-width="1.1" stroke-linejoin="round"/>
<text x="12" y="10.5" fill="#909090">MERSEN - abcbourse.com</text>
<text x="642.5" y="10.5" fill="#909090" text-anchor="end">6 MOIS - JOUR</text>
<text x="16.4" y="27.5" fill="#f0b272">BOLL (20, 2)</text>
<text x="86.6" y="27.5" fill="#0a8a0a">MMC (20)</text>
<text x="143.6" y="27.5" fill="#2222d8">MM (50)</text>
<text x="193.7" y="27.5" fill="#8b4513">MM (200)</text>
<text x="16" y="485.5" fill="#5cb85c">VOLUMECASH</text>
<text x="16" y="640.5" fill="#3366aa">RSI (14)</text>
<text x="646.8" y="27.0" fill="#6a6a6a">28.700</text>
<text x="646.8" y="62.6" fill="#6a6a6a">28.000</text>
<text x="646.8" y="98.2" fill="#6a6a6a">27.300</text>
<text x="646.8" y="133.8" fill="#6a6a6a">26.600</text>
<text x="646.8" y="169.4" fill="#6a6a6a">25.900</text>
<text x="646.8" y="205.0" fill="#6a6a6a">25.200</text>
<text x="646.8" y="240.6" fill="#6a6a6a">24.500</text>
<text x="646.8" y="276.2" fill="#6a6a6a">23.800</text>
<text x="646.8" y="311.8" fill="#6a6a6a">23.100</text>
<text x="646.8" y="347.4" fill="#6a6a6a">22.400</text>
<text x="646.8" y="383.0" fill="#6a6a6a">21.700</text>
<text x="646.8" y="418.6" fill="#6a6a6a">21.000</text>
<text x="646.8" y="486.75" fill="#6a6a6a">9000K</text>
<text x="646.8" y="534.0" fill="#6a6a6a">6000K</text>
<text x="646.8" y="581.5" fill="#6a6a6a">3000K</text>
<text x="646.8" y="627.5" fill="#6a6a6a">0</text>
<text x="646.8" y="646.75" fill="#6a6a6a">90.00</text>
<text x="646.8" y="691.9" fill="#6a6a6a">60.00</text>
<text x="646.8" y="737.6" fill="#6a6a6a">30.000</text>
<text x="646.8" y="782.5" fill="#6a6a6a">0</text>
<rect x="644" y="37.5" width="40" height="13.5" fill="#0a8a0a"/>
<text x="646.8" y="47.95" fill="#fff">28.350</text>
<rect x="644" y="235.3" width="40" height="14.299999999999983" fill="#5a5a5a"/>
<text x="646.8" y="246.14999999999998" fill="#fff">24.450</text>
<rect x="644" y="444" width="40" height="13.699999999999989" fill="#bb0000"/>
<text x="646.8" y="454.55" fill="#fff">20.350</text>
<rect x="644" y="601.7" width="40" height="13.299999999999955" fill="#0aa00a"/>
<text x="646.8" y="612.0500000000001" fill="#fff">909K</text>
<rect x="644" y="664.5" width="40" height="13.5" fill="#1458c8"/>
<text x="646.8" y="674.95" fill="#fff">69.60</text>
<text x="84.0" y="795" fill="#777" text-anchor="middle">20/08</text>
<text x="153.0" y="795" fill="#777" text-anchor="middle">09/09</text>
<text x="223.0" y="795" fill="#777" text-anchor="middle">29/09</text>
<text x="293.0" y="795" fill="#777" text-anchor="middle">17/10</text>
<text x="363.0" y="795" fill="#777" text-anchor="middle">06/11</text>
<text x="432.0" y="795" fill="#777" text-anchor="middle">26/11</text>
<text x="502.0" y="795" fill="#777" text-anchor="middle">16/12</text>
<text x="571.0" y="795" fill="#777" text-anchor="middle">10/01</text>
</svg>
</body></html>
